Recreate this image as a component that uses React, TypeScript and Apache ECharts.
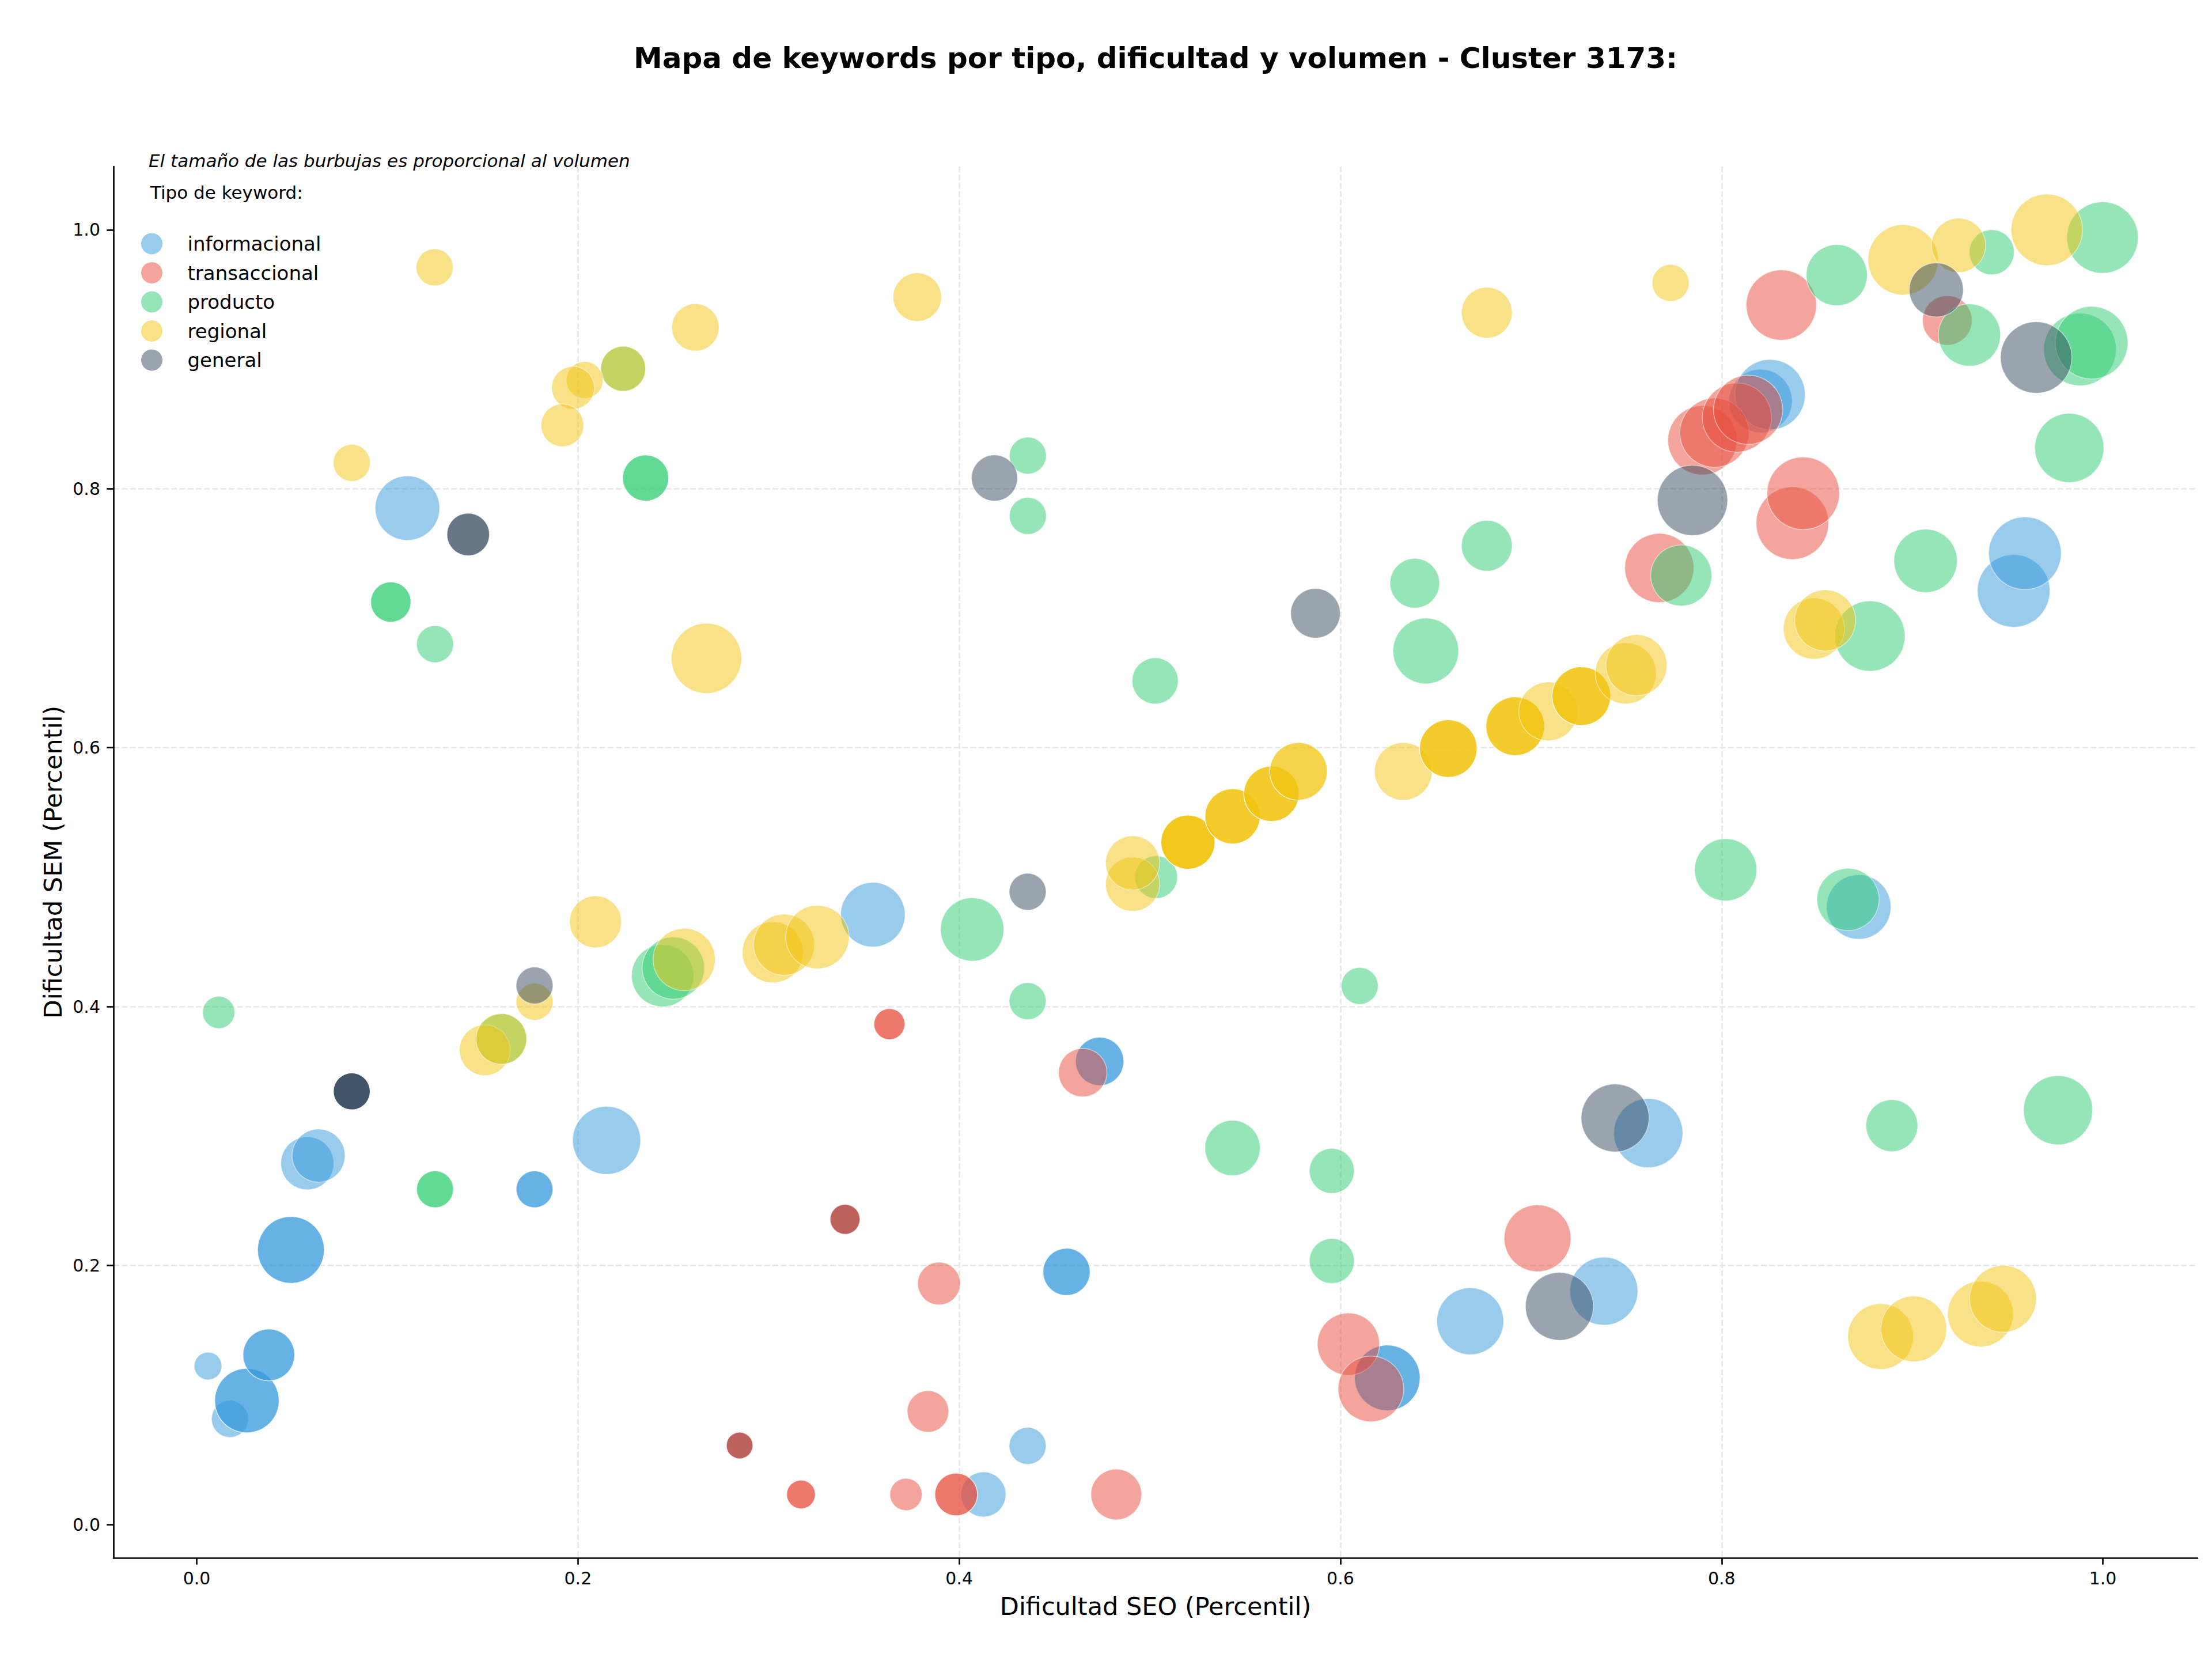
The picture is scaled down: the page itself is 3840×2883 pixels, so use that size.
import React, { useEffect, useRef } from 'react';
import * as echarts from 'echarts';

const W = 3840;
const H = 2883;

// [Dificultad SEO, Dificultad SEM, volumen, nº de keywords coincidentes]
type P = [number, number, number, number];

const categories = ['informacional', 'transaccional', 'producto', 'regional', 'general'];
const colors = ['#3498db', '#e74c3c', '#2ecc71', '#f1c40f', '#34495e'];

const informacional: P[] = [
  [0.1105, 0.785, 1129, 1],
  [0.0059, 0.1224, 207, 1],
  [0.0174, 0.0815, 369, 1],
  [0.0263, 0.0957, 1129, 2],
  [0.0378, 0.131, 729, 2],
  [0.0494, 0.2121, 1211, 2],
  [0.058, 0.279, 762, 1],
  [0.0639, 0.2849, 762, 1],
  [0.1772, 0.2589, 369, 2],
  [0.215, 0.2967, 1253, 1],
  [0.3547, 0.471, 1129, 1],
  [0.4737, 0.3577, 635, 2],
  [0.4563, 0.1951, 605, 2],
  [0.4359, 0.0607, 369, 1],
  [0.4127, 0.0232, 548, 1],
  [0.6246, 0.1133, 1170, 2],
  [0.6681, 0.157, 1211, 1],
  [0.7382, 0.1802, 1253, 1],
  [0.7615, 0.3023, 1296, 1],
  [0.8719, 0.477, 1129, 1],
  [0.9532, 0.7211, 1429, 1],
  [0.9591, 0.7502, 1429, 1],
  [0.8204, 0.8678, 1089, 1],
  [0.8254, 0.8727, 1340, 1],
];

const transaccional: P[] = [
  [0.2848, 0.061, 190, 1],
  [0.3401, 0.2357, 243, 1],
  [0.317, 0.0232, 225, 2],
  [0.3634, 0.3865, 262, 2],
  [0.3721, 0.0232, 282, 1],
  [0.3836, 0.0873, 467, 1],
  [0.3894, 0.1861, 493, 1],
  [0.3984, 0.0232, 493, 2],
  [0.4648, 0.349, 635, 1],
  [0.4824, 0.0232, 697, 1],
  [0.6042, 0.1393, 1050, 1],
  [0.616, 0.1047, 1170, 1],
  [0.7034, 0.2211, 1211, 1],
  [0.7673, 0.7388, 1296, 1],
  [0.7899, 0.8374, 1296, 1],
  [0.7962, 0.8433, 1296, 1],
  [0.808, 0.855, 1296, 1],
  [0.8139, 0.861, 1296, 1],
  [0.8313, 0.9419, 1340, 1],
  [0.8371, 0.7734, 1429, 1],
  [0.8428, 0.7965, 1429, 1],
  [0.9184, 0.93, 666, 1],
];

// transactional keywords drawn after the general ones at the same spot
const transaccionalTardio: P[] = [
  [0.2848, 0.061, 190, 1],
  [0.3401, 0.2357, 243, 1],
];

const producto: P[] = [
  [0.0115, 0.3955, 282, 1],
  [0.1018, 0.7125, 441, 2],
  [0.125, 0.68, 369, 1],
  [0.125, 0.2589, 369, 2],
  [0.1598, 0.375, 697, 1],
  [0.2237, 0.8927, 548, 1],
  [0.2355, 0.8083, 576, 2],
  [0.2444, 0.4239, 1050, 1],
  [0.25, 0.4298, 1050, 1],
  [0.4068, 0.4596, 1089, 1],
  [0.436, 0.8256, 369, 1],
  [0.436, 0.779, 369, 1],
  [0.4359, 0.4042, 369, 1],
  [0.5028, 0.6516, 576, 1],
  [0.5033, 0.5, 493, 1],
  [0.5434, 0.2908, 829, 1],
  [0.5955, 0.2731, 548, 1],
  [0.5955, 0.2035, 548, 1],
  [0.6101, 0.416, 369, 1],
  [0.639, 0.727, 666, 1],
  [0.6448, 0.6747, 1170, 1],
  [0.6768, 0.756, 697, 1],
  [0.7788, 0.733, 1011, 1],
  [0.8021, 0.5057, 1050, 1],
  [0.8604, 0.965, 1011, 1],
  [0.8663, 0.4828, 1050, 1],
  [0.8778, 0.6862, 1340, 1],
  [0.8893, 0.3081, 729, 1],
  [0.907, 0.7443, 1089, 1],
  [0.93, 0.9187, 1050, 1],
  [0.9417, 0.9827, 548, 1],
  [0.9765, 0.32, 1296, 1],
  [0.9824, 0.8315, 1296, 1],
  [0.988, 0.9076, 1429, 1],
  [0.9941, 0.9128, 1429, 1],
  [0.9998, 0.994, 1384, 1],
];

const regional: P[] = [
  [0.1248, 0.971, 369, 1],
  [0.2616, 0.9246, 605, 1],
  [0.2237, 0.8927, 548, 1],
  [0.2035, 0.884, 369, 1],
  [0.1974, 0.878, 493, 1],
  [0.1918, 0.849, 493, 1],
  [0.0813, 0.82, 369, 1],
  [0.2674, 0.669, 1340, 1],
  [0.378, 0.948, 635, 1],
  [0.6768, 0.936, 697, 1],
  [0.7732, 0.959, 369, 1],
  [0.8952, 0.9768, 1340, 1],
  [0.9243, 0.988, 795, 1],
  [0.9706, 1.0, 1384, 1],
  [0.1511, 0.3664, 697, 1],
  [0.1598, 0.375, 697, 1],
  [0.1772, 0.4038, 369, 1],
  [0.2092, 0.4655, 729, 1],
  [0.2557, 0.4364, 1050, 1],
  [0.3022, 0.442, 1011, 1],
  [0.3081, 0.4478, 1011, 1],
  [0.3256, 0.4537, 1089, 1],
  [0.491, 0.4946, 795, 1],
  [0.491, 0.511, 795, 1],
  [0.52, 0.527, 795, 4],
  [0.5434, 0.547, 829, 3],
  [0.5638, 0.5644, 829, 3],
  [0.578, 0.5817, 900, 2],
  [0.633, 0.5817, 900, 1],
  [0.6566, 0.5993, 900, 3],
  [0.6917, 0.6166, 936, 3],
  [0.709, 0.628, 936, 1],
  [0.7264, 0.6398, 936, 3],
  [0.7497, 0.6574, 1011, 1],
  [0.7553, 0.6637, 1011, 1],
  [0.8484, 0.692, 1011, 1],
  [0.8543, 0.6983, 1011, 1],
  [0.8834, 0.1452, 1170, 1],
  [0.9008, 0.1511, 1170, 1],
  [0.9358, 0.1626, 1170, 1],
  [0.9476, 0.1743, 1211, 1],
];

const general: P[] = [
  [0.0813, 0.3345, 369, 4],
  [0.1424, 0.7647, 493, 2],
  [0.1772, 0.4163, 369, 1],
  [0.4185, 0.8083, 576, 1],
  [0.4359, 0.4887, 369, 1],
  [0.5869, 0.7038, 666, 1],
  [0.7149, 0.1685, 1253, 1],
  [0.7441, 0.314, 1253, 1],
  [0.7847, 0.791, 1340, 1],
  [0.9126, 0.9536, 795, 1],
  [0.965, 0.9014, 1384, 1],
  [0.2848, 0.061, 190, 1],
  [0.3401, 0.2357, 243, 1],
];

const xTicks = [0, 0.2, 0.4, 0.6, 0.8, 1.0];
const yTicks = [0, 0.2, 0.4, 0.6, 0.8, 1.0];
const xRange = [-0.0437, 1.0497];
const yRange = [-0.0258, 1.0489];

const titleText = 'Mapa de keywords por tipo, dificultad y volumen - Cluster 3173:';
const noteText = 'El tamaño de las burbujas es proporcional al volumen';
const legendTitle = 'Tipo de keyword:';
const xName = 'Dificultad SEO (Percentil)';
const yName = 'Dificultad SEM (Percentil)';

const FONT = '"DejaVu Sans", sans-serif';
const PX = 240 / 72; // points -> pixels

function makeSeries(name: string, color: string, pts: P[]) {
  return {
    type: 'scatter',
    name,
    symbol: 'circle',
    data: pts.map(([x, y, v, n]) => ({
      value: [x, y, v],
      itemStyle: { opacity: 1 - Math.pow(0.5, n) },
    })),
    symbolSize: (val: number[]) => Math.sqrt(val[2]) * PX,
    itemStyle: { color, opacity: 0.5, borderColor: '#ffffff', borderWidth: 1.5 },
    emphasis: { disabled: true },
    silent: true,
    progressive: 0,
  };
}

export default function App() {
  const ref = useRef<HTMLDivElement>(null);

  useEffect(() => {
    if (!ref.current) return;
    const chart = echarts.init(ref.current, undefined, { renderer: 'svg', width: W, height: H });

    const axisCommon = {
      type: 'value',
      nameLocation: 'middle',
      nameTextStyle: { fontFamily: FONT, fontSize: 43, color: '#000' },
      axisLine: { show: true, onZero: false, lineStyle: { color: '#000', width: 2.67 } },
      axisTick: { show: true, inside: false, length: 11.7, lineStyle: { color: '#000', width: 2.67 } },
      splitLine: {
        show: true,
        showMinLine: false,
        showMaxLine: false,
        lineStyle: { color: '#e7e7e7', width: 2.67, type: [10, 4.3] },
      },
    };

    const option: any = {
      animation: false,
      backgroundColor: '#ffffff',
      grid: { left: 197, right: 25, top: 289, bottom: 179, containLabel: false, outerBoundsMode: 'none' },
      xAxis: {
        ...axisCommon,
        min: xRange[0],
        max: xRange[1],
        name: xName,
        nameGap: 62,
        axisTick: { ...axisCommon.axisTick, customValues: xTicks },
        axisLabel: {
          customValues: xTicks,
          formatter: (v: number) => v.toFixed(1),
          fontFamily: FONT,
          fontSize: 30,
          color: '#000',
          margin: 20,
        },
      },
      yAxis: {
        ...axisCommon,
        min: yRange[0],
        max: yRange[1],
        name: yName,
        nameGap: 84,
        axisTick: { ...axisCommon.axisTick, customValues: yTicks },
        axisLabel: {
          customValues: yTicks,
          formatter: (v: number) => v.toFixed(1),
          fontFamily: FONT,
          fontSize: 30,
          color: '#000',
          margin: 23,
        },
      },
      legend: {
        data: categories,
        orient: 'vertical',
        left: 245,
        top: 404.5,
        padding: 0,
        itemWidth: 114,
        itemHeight: 37,
        itemGap: 13.5,
        icon: 'circle',
        selectedMode: false,
        itemStyle: { opacity: 0.5, borderWidth: 0 },
        textStyle: { fontFamily: FONT, fontSize: 34, color: '#000' },
      },
      graphic: [
        {
          type: 'text',
          x: 2006,
          y: 100.7,
          silent: true,
          style: {
            text: titleText,
            fontFamily: FONT,
            fontSize: 50,
            fontWeight: 'bold',
            fill: '#000',
            align: 'center',
            verticalAlign: 'middle',
            textAlign: 'center',
            textVerticalAlign: 'middle',
          },
        },
        {
          type: 'text',
          x: 258,
          y: 279,
          silent: true,
          style: {
            text: noteText,
            fontFamily: FONT,
            fontSize: 31,
            fontStyle: 'italic',
            fill: '#000',
            align: 'left',
            verticalAlign: 'middle',
            textAlign: 'left',
            textVerticalAlign: 'middle',
          },
        },
        {
          type: 'text',
          x: 261,
          y: 334,
          silent: true,
          style: {
            text: legendTitle,
            fontFamily: FONT,
            fontSize: 31,
            fill: '#000',
            align: 'left',
            verticalAlign: 'middle',
            textAlign: 'left',
            textVerticalAlign: 'middle',
          },
        },
      ],
      series: [
        makeSeries(categories[0], colors[0], informacional),
        makeSeries(categories[1], colors[1], transaccional),
        makeSeries(categories[2], colors[2], producto),
        makeSeries(categories[3], colors[3], regional),
        makeSeries(categories[4], colors[4], general),
        makeSeries(categories[1], colors[1], transaccionalTardio),
      ],
    };

    chart.setOption(option);
    return () => chart.dispose();
  }, []);

  return (
    <div
      ref={ref}
      style={{ position: 'absolute', left: 0, top: 0, width: W, height: H, background: '#fff' }}
    />
  );
}
